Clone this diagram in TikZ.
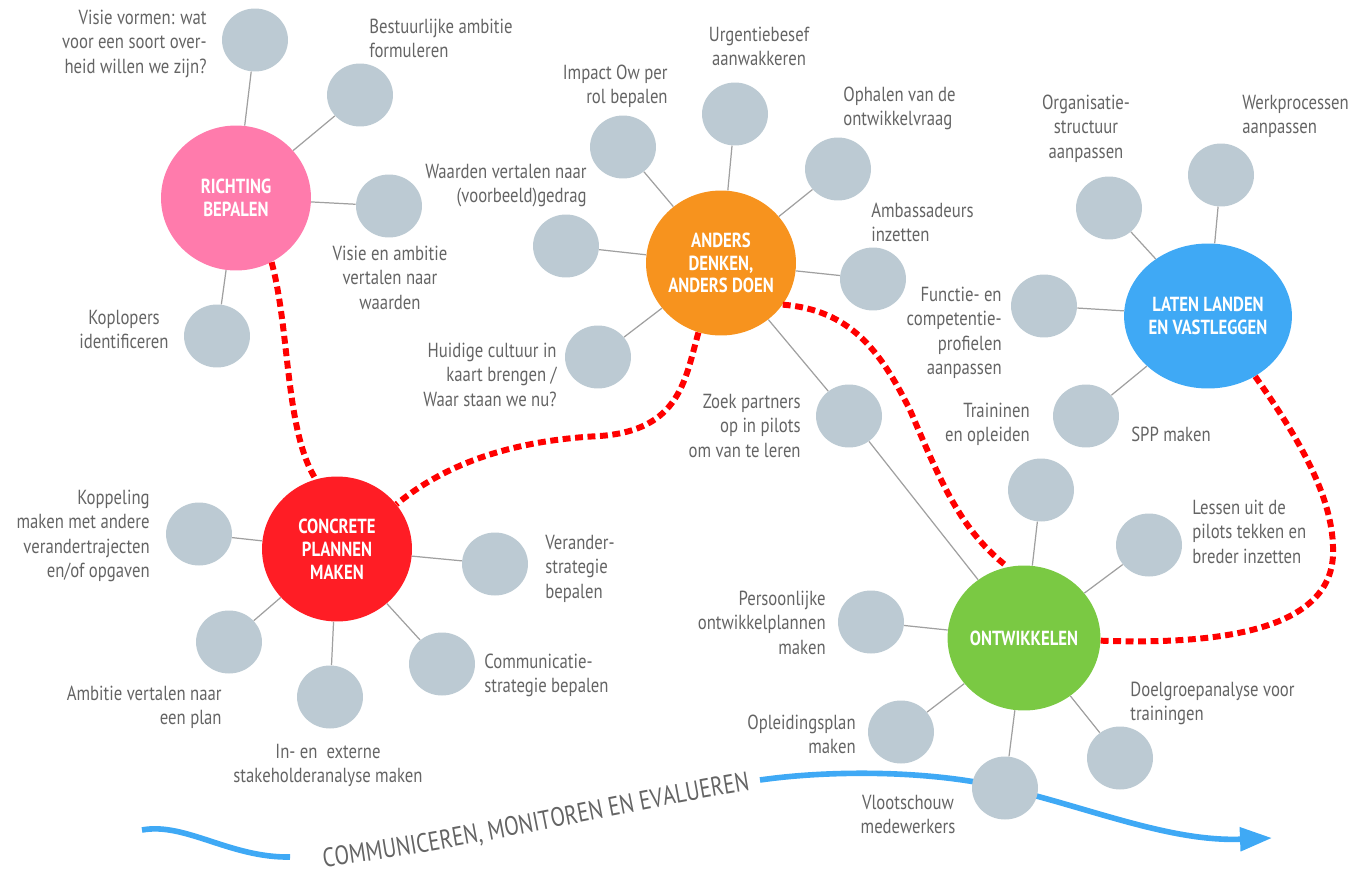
\documentclass[tikz,border=0pt]{standalone}
\usepackage{fontspec}
\setmainfont{PT Sans}[FakeStretch=0.82]
\newfontfamily\waveFamily{PT Sans}[FakeStretch=0.8]
\usetikzlibrary{arrows.meta, calc, decorations.text, positioning, shapes.geometric}

\definecolor{subGray}{RGB}{188,202,211}
\definecolor{labelGray}{RGB}{100,100,100}
\definecolor{spokeGray}{RGB}{160,160,160}
\definecolor{richtingPink}{RGB}{255,123,172}
\definecolor{andersOrange}{RGB}{247,147,30}
\definecolor{concreteRed}{RGB}{255,29,37}
\definecolor{ontwikkelGreen}{RGB}{122,201,67}
\definecolor{latenBlue}{RGB}{63,169,245}
\definecolor{dashRed}{RGB}{255,0,0}

\newcommand\waveFont{\color{labelGray}\waveFamily\fontsize{15.2}{18}\selectfont}

\tikzset{
  hubNode/.style = {ellipse, minimum width=3cm, minimum height=2.9cm, inner sep=0pt,
    text=white, align=center, font=\bfseries\fontsize{11.6}{13}\selectfont},
  subNode/.style = {ellipse, fill=subGray, minimum width=1.32cm, minimum height=1.26cm, inner sep=0pt},
  textNode/.style = {inner sep=0pt, text=labelGray, font=\fontsize{11.6}{13.9}\selectfont},
  spoke/.style = {draw=spokeGray, line width=0.7pt},
  redDash/.style = {draw=dashRed, line width=3.4pt, dash pattern=on 4.5pt off 2.6pt},
  waveLine/.style = {draw=latenBlue, line width=3.2pt}
}

\begin{document}
\begin{tikzpicture}[x=0.02cm, y=-0.02cm]
  \useasboundingbox (0,0) rectangle (1353,876);

  % monitoring wave along the bottom
  \draw[waveLine] (142,830) .. controls (185,822) and (230,858) .. (290,857);
  \draw[waveLine, -{Triangle[length=0.64cm, width=0.46cm]}] (760,780) .. controls (830,770) and (930,770) .. (1005,788)
    .. controls (1090,808) and (1170,842) .. (1272,838);
  \path[decorate, decoration={text along path, text align=center,
      text={|\waveFont|COMMUNICEREN{,} MONITOREN EN EVALUEREN}}]
    (328,867) .. controls (460,850) and (620,812) .. (746,791);

  % main steps
  \node[hubNode, fill=richtingPink] (richting) at (236,198) {RICHTING\\BEPALEN};
  \node[hubNode, fill=andersOrange] (anders) at (721,263) {ANDERS\\DENKEN,\\ANDERS DOEN};
  \node[hubNode, fill=concreteRed] (concrete) at (337,549) {CONCRETE\\PLANNEN\\MAKEN};
  \node[hubNode, fill=ontwikkelGreen] (ontwikkelen) at (1024,638) {ONTWIKKELEN};
  \node[hubNode, fill=latenBlue] (laten) at (1208,316) {LATEN LANDEN\\EN VASTLEGGEN};

  % richting bepalen
  \node[subNode] (visieVormen) at ($(richting) + (19,-158)$) {};
  \node[subNode] (bestuurAmbitie) at ($(richting) + (124,-103)$) {};
  \node[subNode] (visieWaarden) at ($(richting) + (153,8)$) {};
  \node[subNode] (koplopers) at ($(richting) + (-19,138)$) {};
  \foreach \sub in {visieVormen, bestuurAmbitie, visieWaarden, koplopers}
    \draw[spoke] (richting) -- (\sub);

  \node[textNode, align=right, anchor=base east] (visieVormenText) at ($(visieVormen) + (-48,33)$) {Visie vormen: wat\\voor een soort over-\\heid willen we zijn?};
  \node[textNode, align=left, anchor=base west] (bestuurAmbitieText) at ($(bestuurAmbitie) + (9,-37.5)$) {Bestuurlijke ambitie\\formuleren};
  \node[textNode, align=center, anchor=base] (visieWaardenText) at ($(visieWaarden) + (1,103)$) {Visie en ambitie\\vertalen naar\\waarden};
  \node[textNode, align=center, anchor=base] (koplopersText) at ($(koplopers) + (-93,12.5)$) {Koplopers\\identificeren};

  % anders denken, anders doen
  \node[subNode] (impactRol) at ($(anders) + (-98,-116)$) {};
  \node[subNode] (urgentie) at ($(anders) + (14,-149)$) {};
  \node[subNode] (ontwikkelvraag) at ($(anders) + (117,-94)$) {};
  \node[subNode] (ambassadeurs) at ($(anders) + (152,16)$) {};
  \node[subNode] (waardenGedrag) at ($(anders) + (-155,-17)$) {};
  \node[subNode] (huidigeCultuur) at ($(anders) + (-123,94)$) {};
  \node[subNode] (zoekPartners) at ($(anders) + (128,153)$) {};
  \foreach \sub in {impactRol, urgentie, ontwikkelvraag, ambassadeurs, waardenGedrag, huidigeCultuur, zoekPartners}
    \draw[spoke] (anders) -- (\sub);
  \draw[spoke] (zoekPartners) -- (ontwikkelen);

  \node[textNode, align=right, anchor=base east] (impactRolText) at ($(impactRol) + (45,-43.5)$) {Impact Ow per\\rol bepalen};
  \node[textNode, align=center, anchor=base] (urgentieText) at ($(urgentie) + (24,-48.5)$) {Urgentiebesef\\aanwakkeren};
  \node[textNode, align=left, anchor=base west] (ontwikkelvraagText) at ($(ontwikkelvraag) + (5,-43.5)$) {Ophalen van de\\ontwikkelvraag};
  \node[textNode, align=left, anchor=base west] (ambassadeursText) at ($(ambassadeurs) + (-2,-37.5)$) {Ambassadeurs\\inzetten};
  \node[textNode, align=right, anchor=base east] (waardenGedragText) at ($(waardenGedrag) + (21,-43.5)$) {Waarden vertalen naar\\(voorbeeld)gedrag};
  \node[textNode, align=right, anchor=base east] (huidigeCultuurText) at ($(huidigeCultuur) + (-41,49)$) {Huidige cultuur in\\kaart brengen /\\Waar staan we nu?};
  \node[textNode, align=right, anchor=base east] (zoekPartnersText) at ($(zoekPartners) + (-48,41)$) {Zoek partners\\op in pilots\\om van te leren};

  % laten landen en vastleggen
  \node[subNode] (organisatie) at ($(laten) + (-99,-108)$) {};
  \node[subNode] (werkprocessen) at ($(laten) + (13,-141)$) {};
  \node[subNode] (functieProfiel) at ($(laten) + (-164,-10)$) {};
  \node[subNode] (sppMaken) at ($(laten) + (-122,100)$) {};
  \foreach \sub in {organisatie, werkprocessen, functieProfiel, sppMaken}
    \draw[spoke] (laten) -- (\sub);

  \node[textNode, align=center, anchor=base] (organisatieText) at ($(organisatie) + (-23,-50)$) {Organisatie-\\structuur\\aanpassen};
  \node[textNode, align=left, anchor=base west] (werkprocessenText) at ($(werkprocessen) + (21,-41.5)$) {Werkprocessen\\aanpassen};
  \node[textNode, align=right, anchor=base east] (functieProfielText) at ($(functieProfiel) + (-42,68.5)$) {Functie- en\\competentie-\\profielen\\aanpassen};
  \node[textNode, align=left, anchor=base west] (sppMakenText) at ($(sppMaken) + (45,25)$) {SPP maken};

  % ontwikkelen
  \node[subNode] (traininen) at ($(ontwikkelen) + (17,-148)$) {};
  \node[subNode] (lessenPilots) at ($(ontwikkelen) + (125,-93)$) {};
  \node[subNode] (doelgroep) at ($(ontwikkelen) + (96,120)$) {};
  \node[subNode] (vlootschouw) at ($(ontwikkelen) + (-19,150)$) {};
  \node[subNode] (opleidingsplan) at ($(ontwikkelen) + (-123,94)$) {};
  \node[subNode] (persoonlijk) at ($(ontwikkelen) + (-153,-16)$) {};
  \foreach \sub in {traininen, lessenPilots, doelgroep, vlootschouw, opleidingsplan, persoonlijk}
    \draw[spoke] (ontwikkelen) -- (\sub);

  \node[textNode, align=right, anchor=base east] (traininenText) at ($(traininen) + (-11,-48.5)$) {Traininen\\en opleiden};
  \node[textNode, align=left, anchor=base west] (lessenPilotsText) at ($(lessenPilots) + (43,18)$) {Lessen uit de\\pilots tekken en\\breder inzetten};
  \node[textNode, align=left, anchor=base west] (doelgroepText) at ($(doelgroep) + (10,-37.5)$) {Doelgroepanalyse voor\\trainingen};
  \node[textNode, align=center, anchor=base] (vlootschouwText) at ($(vlootschouw) + (-97,45.5)$) {Vlootschouw\\medewerkers};
  \node[textNode, align=right, anchor=base east] (opleidingsplanText) at ($(opleidingsplan) + (-45,21.5)$) {Opleidingsplan\\maken};
  \node[textNode, align=right, anchor=base east] (persoonlijkText) at ($(persoonlijk) + (-45,32)$) {Persoonlijke\\ontwikkelplannen\\maken};

  % concrete plannen maken
  \node[subNode] (koppeling) at ($(concrete) + (-138,-15)$) {};
  \node[subNode] (ambitiePlan) at ($(concrete) + (-108,93)$) {};
  \node[subNode] (stakeholder) at ($(concrete) + (-7,148)$) {};
  \node[subNode] (communicatie) at ($(concrete) + (105,115)$) {};
  \node[subNode] (verander) at ($(concrete) + (158,15)$) {};
  \foreach \sub in {koppeling, ambitiePlan, stakeholder, communicatie, verander}
    \draw[spoke] (concrete) -- (\sub);

  \node[textNode, align=right, anchor=base east] (koppelingText) at ($(koppeling) + (-49,43.5)$) {Koppeling\\maken met andere\\verandertrajecten\\en/of opgaven};
  \node[textNode, align=right, anchor=base east] (ambitiePlanText) at ($(ambitiePlan) + (-7,82.5)$) {Ambitie vertalen naar\\een plan};
  \node[textNode, align=center, anchor=base] (stakeholderText) at ($(stakeholder) + (-2,85.5)$) {In- en~ externe\\stakeholderanalyse maken};
  \node[textNode, align=left, anchor=base west] (communicatieText) at ($(communicatie) + (42,28.5)$) {Communicatie-\\strategie bepalen};
  \node[textNode, align=left, anchor=base west] (veranderText) at ($(verander) + (50,34)$) {Verander-\\strategie\\bepalen};

  % route between the steps
  \draw[redDash] (richting.-61) .. controls (290,330) and (285,430) .. (concrete.107);
  \draw[redDash] (anders.-108) .. controls (685,380) and (680,430) .. (600,436)
    .. controls (520,440) and (450,460) .. (concrete.37);
  \draw[redDash] (anders.-34) .. controls (850,310) and (880,350) .. (910,410)
    .. controls (940,480) and (960,530) .. (ontwikkelen.103);
  \draw[redDash] (laten.-52) .. controls (1300,440) and (1335,500) .. (1333,555)
    .. controls (1330,630) and (1220,645) .. (ontwikkelen.-2);
\end{tikzpicture}
\end{document}
